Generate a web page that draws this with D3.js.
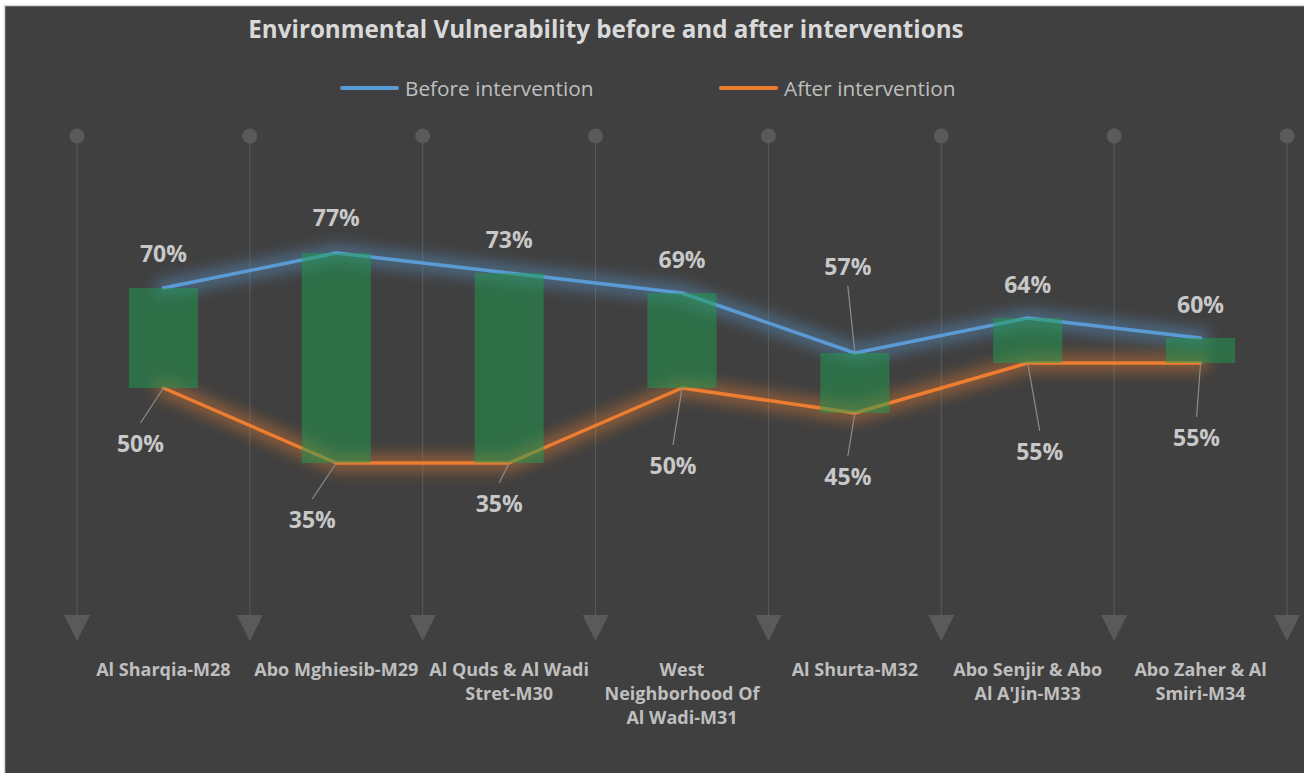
<!DOCTYPE html>
<html>
<head>
<meta charset="utf-8">
<script src="https://cdn.jsdelivr.net/npm/d3@7"></script>
<style>
  html, body { margin: 0; padding: 0; background: #ffffff; }
  svg { display: block; }
  text { font-family: "Open Sans", Lato, sans-serif; }
</style>
</head>
<body>
<svg id="chart" width="1304" height="773"></svg>
<script>
// ---------------- data ----------------
const categories = [
  "Al Sharqia-M28",
  "Abo Mghiesib-M29",
  "Al Quds & Al Wadi Stret-M30",
  "West Neighborhood Of Al Wadi-M31",
  "Al Shurta-M32",
  "Abo Senjir & Abo Al A'Jin-M33",
  "Abo Zaher & Al Smiri-M34"
];
const beforeValues = [0.70, 0.77, 0.73, 0.69, 0.57, 0.64, 0.60];
const afterValues  = [0.50, 0.35, 0.35, 0.50, 0.45, 0.55, 0.55];
const seriesNames  = ["Before intervention", "After intervention"];
const titleText    = "Environmental Vulnerability before and after interventions";

// label placement (layout only: offsets of label centre from its point, px)
const beforeLabelOffsets = [[0,-34],[0,-35],[0,-33],[0,-33],[-7,-86],[0,-33],[0,-33]];
const afterLabelOffsets  = [[-23,56],[-24,57],[-10,41],[-9,78],[-7,64],[12,89],[-4,75]];

// ---------------- layout ----------------
const W = 1304, H = 773;
const svg = d3.select("#chart");

const colors = { bg: "#404040", border: "#d9d9d9", grid: "#5a5a5a",
  before: "#5b9bd5", after: "#ed7d31", bar: "#1e9e50",
  title: "#d9d9d9", text: "#bfbfbf", label: "#c8c8c8", leader: "#8c8c8c" };

// background + border
svg.append("rect").attr("x", 4.5).attr("y", 5.5).attr("width", W + 10).attr("height", H + 10)
  .attr("fill", colors.bg).attr("stroke", colors.border).attr("stroke-width", 1.5);

const defs = svg.append("defs");
["before", "after"].forEach(k => {
  const f = defs.append("filter").attr("id", "glow-" + k)
    .attr("x", "-20%").attr("y", "-60%").attr("width", "140%").attr("height", "220%");
  f.append("feGaussianBlur").attr("stdDeviation", 7);
});

const x = d3.scaleBand().domain(categories).range([77, 1287]).paddingInner(0).paddingOuter(0);
const y = d3.scaleLinear().domain([0, 1]).range([638, 138]);
const cx = d => x(d) + x.bandwidth() / 2;

// title
svg.append("text").attr("x", 606).attr("y", 38).attr("text-anchor", "middle")
  .attr("font-size", 24.2).attr("font-weight", "bold").attr("fill", colors.title).text(titleText);

// legend
const legend = svg.append("g");
const legendItems = [
  { name: seriesNames[0], color: colors.before, x: 342 },
  { name: seriesNames[1], color: colors.after, x: 721 }
];
legendItems.forEach(it => {
  legend.append("line").attr("x1", it.x).attr("x2", it.x + 55).attr("y1", 88).attr("y2", 88)
    .attr("stroke", it.color).attr("stroke-width", 4).attr("stroke-linecap", "round");
  legend.append("text").attr("x", it.x + 63).attr("y", 95.5).attr("font-size", 20.8)
    .attr("fill", colors.text).text(it.name);
});

// vertical gridlines with dot and arrow ends (band boundaries)
const boundaries = categories.map(c => x(c)).concat([x(categories[categories.length - 1]) + x.bandwidth()]);
const grid = svg.append("g");
boundaries.forEach(bx => {
  grid.append("line").attr("x1", bx).attr("x2", bx).attr("y1", y(1)).attr("y2", y(0) - 20)
    .attr("stroke", colors.grid).attr("stroke-width", 1);
  grid.append("circle").attr("cx", bx).attr("cy", y(1) - 2).attr("r", 7.5).attr("fill", colors.grid);
  grid.append("path").attr("d", `M${bx - 13},${y(0) - 23} L${bx + 13},${y(0) - 23} L${bx},${y(0) + 3} Z`)
    .attr("fill", colors.grid);
});

// category labels (wrapped)
const catFont = 18;
function wrapLines(text, maxW, fontSize) {
  const tmp = svg.append("text").attr("font-size", fontSize).attr("font-weight", "bold");
  const words = text.split(" ");
  const lines = [];
  let cur = "";
  words.forEach(w => {
    const trial = cur ? cur + " " + w : w;
    tmp.text(trial);
    if (tmp.node().getComputedTextLength() > maxW && cur) { lines.push(cur); cur = w; }
    else cur = trial;
  });
  if (cur) lines.push(cur);
  tmp.remove();
  return lines;
}
const catG = svg.append("g");
categories.forEach(c => {
  const lines = wrapLines(c, 166.5, catFont);
  const t = catG.append("text").attr("text-anchor", "middle").attr("font-size", catFont)
    .attr("font-weight", "bold").attr("fill", colors.text);
  lines.forEach((l, i) => t.append("tspan").attr("x", cx(c)).attr("y", 676 + i * 24).text(l));
});

// lines with glow
const lineGen = vals => d3.line().x((d, i) => cx(categories[i])).y(d => y(d))(vals);
const series = [
  { vals: beforeValues, color: colors.before, key: "before" },
  { vals: afterValues, color: colors.after, key: "after" }
];
series.forEach(s => {
  svg.append("path").attr("d", lineGen(s.vals)).attr("fill", "none")
    .attr("stroke", s.color).attr("stroke-width", 18).attr("stroke-opacity", 0.42)
    .attr("stroke-linejoin", "round").attr("stroke-linecap", "round")
    .attr("filter", `url(#glow-${s.key})`);
});
series.forEach(s => {
  svg.append("path").attr("d", lineGen(s.vals)).attr("fill", "none")
    .attr("stroke", s.color).attr("stroke-width", 3.5)
    .attr("stroke-linejoin", "round").attr("stroke-linecap", "round");
});

// up-down bars
const barW = x.bandwidth() * 0.4;
svg.append("g").selectAll("rect").data(categories).join("rect")
  .attr("x", c => cx(c) - barW / 2)
  .attr("y", (c, i) => y(Math.max(beforeValues[i], afterValues[i])))
  .attr("width", barW)
  .attr("height", (c, i) => Math.abs(y(beforeValues[i]) - y(afterValues[i])))
  .attr("fill", colors.bar).attr("fill-opacity", 0.5);

// data labels with leader lines
const fmt = d3.format(".0%");
function drawLabels(vals, offsets, below) {
  vals.forEach((v, i) => {
    const px = cx(categories[i]), py = y(v);
    const lx = px + offsets[i][0], ly = py + offsets[i][1];
    if (Math.abs(offsets[i][1]) > 38) {
      svg.append("line").attr("x1", px).attr("y1", py)
        .attr("x2", lx).attr("y2", below ? ly - 21 : ly + 19)
        .attr("stroke", colors.leader).attr("stroke-width", 1.2);
    }
    svg.append("text").attr("x", lx).attr("y", ly + 8).attr("text-anchor", "middle")
      .attr("font-size", 23).attr("font-weight", "bold").attr("fill", colors.label)
      .text(fmt(v));
  });
}
drawLabels(beforeValues, beforeLabelOffsets, false);
drawLabels(afterValues, afterLabelOffsets, true);
</script>
</body>
</html>
